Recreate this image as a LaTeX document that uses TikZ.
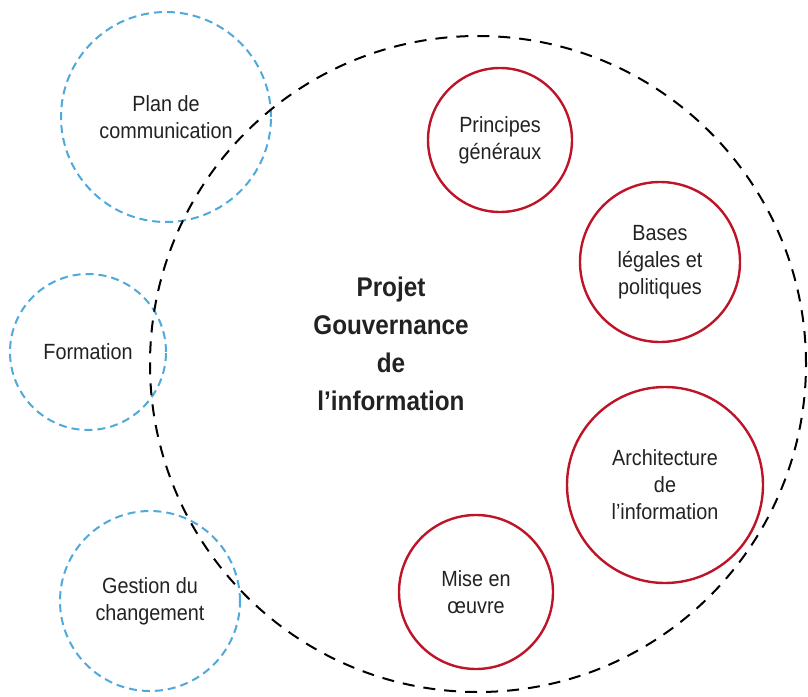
\documentclass[tikz,border=0pt]{standalone}
\usepackage{fontspec}
\setmainfont{Liberation Sans}[FakeStretch=0.9]
\usepackage{tikz}
\usetikzlibrary{positioning}
\definecolor{bleu}{HTML}{4FA9DB}
\definecolor{rouge}{HTML}{BE1428}
\definecolor{encre}{HTML}{222222}

\begin{document}
\begin{tikzpicture}[x=0.5pt, y=-0.5pt,
  outer/.style={circle, draw=black, line width=1pt,
    dash pattern=on 6pt off 4.5pt, minimum size=#1, inner sep=0pt},
  support/.style={circle, draw=bleu, line width=1pt,
    dash pattern=on 4pt off 2.5pt, minimum size=#1, inner sep=0pt,
    font=\fontsize{11}{13.5}\selectfont, text=encre, align=center},
  pillar/.style={circle, draw=rouge, line width=1.2pt,
    minimum size=#1, inner sep=0pt,
    font=\fontsize{11}{13.5}\selectfont, text=encre, align=center}]
\useasboundingbox (0,0) rectangle (808,696);
\node[support=105pt] (plan) at (166,117) {Plan de\\communication};
\node[support=78pt] (form) at (88,352) {Formation};
\node[support=90pt] (gest) at (150,601) {Gestion du\\changement};
\node[outer=328pt] (proj) at (478,364) {};
\node[font=\bfseries\fontsize{13.5}{19}\selectfont, text=encre, align=center]
  (title) at (391,344) {Projet\\Gouvernance\\de\\l’information};
\node[pillar=72pt] (princ) at (500,140) {Principes\\généraux};
\node[pillar=80pt] (bases) at (660,262) {Bases\\légales et\\politiques};
\node[pillar=98pt] (archi) at (665,485) {Architecture\\de\\l’information};
\node[pillar=77pt] (mise) at (476,592) {Mise en\\œuvre};
\end{tikzpicture}
\end{document}
